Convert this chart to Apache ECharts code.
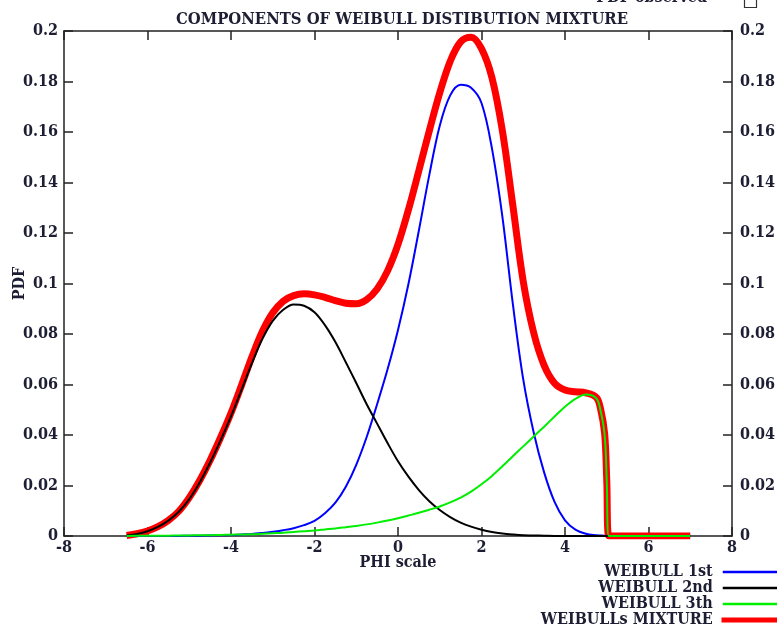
<!DOCTYPE html>
<html>
<head>
<meta charset="utf-8">
<script src="https://cdn.jsdelivr.net/npm/echarts@6/dist/echarts.min.js"></script>
<style>
  html, body { margin: 0; padding: 0; background: #ffffff; }
  #chart { width: 777px; height: 629px; }
</style>
</head>
<body>
<div id="chart"></div>
<script>
// PHI positions at which the densities are sampled
const phi = [-6.5, -6.25, -6, -5.75, -5.5, -5.25, -5, -4.75, -4.5, -4.25, -4, -3.75, -3.5, -3.25,
  -3, -2.75, -2.5, -2.25, -2, -1.75, -1.5, -1.25, -1, -0.75, -0.5, -0.25, 0, 0.25, 0.5, 0.75,
  1, 1.25, 1.5, 1.75, 2, 2.25, 2.5, 2.75, 3, 3.25, 3.5, 3.75, 4, 4.25, 4.5, 4.75, 4.85, 4.95,
  5, 5.05, 5.25, 5.5, 6, 6.5, 7];

// first Weibull component
const weibull1st = [0, 0, 0, 0, 0, 0, 0.0001, 0.0001, 0.0002, 0.0003, 0.0004, 0.0006, 0.0008, 0.0012,
  0.0017, 0.0023, 0.0031, 0.0043, 0.006, 0.009, 0.0132, 0.0195, 0.0282, 0.0392, 0.0522, 0.066, 0.0816, 0.0998, 0.121, 0.143,
  0.1625, 0.1745, 0.1787, 0.1775, 0.1715, 0.1535, 0.1265, 0.092, 0.062, 0.041, 0.0252, 0.0135, 0.0062, 0.0025, 0.0009, 0.0003, 0.0002, 0.0001,
  0, 0, 0, 0, 0, 0, 0];

// second Weibull component
const weibull2nd = [0.0002, 0.0008, 0.0019, 0.0036, 0.0061, 0.0096, 0.0146, 0.0212, 0.0291, 0.0379, 0.0474, 0.0578, 0.0684, 0.078,
  0.0852, 0.0896, 0.0917, 0.0912, 0.0886, 0.0835, 0.0768, 0.0688, 0.0606, 0.0522, 0.0445, 0.0368, 0.0296, 0.0235, 0.0182, 0.0138,
  0.0103, 0.0075, 0.0053, 0.0037, 0.0025, 0.0016, 0.001, 0.0006, 0.0003, 0.0002, 0.0001, 0, 0, 0, 0, 0, 0, 0,
  0, 0, 0, 0, 0, 0, 0];

// third Weibull component
const weibull3rd = [0, 0.0001, 0.0001, 0.0001, 0.0001, 0.0002, 0.0002, 0.0003, 0.0003, 0.0004, 0.0005, 0.0006, 0.0007, 0.0009,
  0.0011, 0.0013, 0.0016, 0.0019, 0.0022, 0.0026, 0.003, 0.0035, 0.004, 0.0046, 0.0053, 0.0061, 0.007, 0.0081, 0.0092, 0.0104,
  0.0117, 0.0133, 0.0152, 0.0176, 0.0205, 0.0238, 0.0276, 0.0316, 0.0355, 0.0394, 0.0433, 0.0473, 0.0512, 0.0543, 0.056, 0.0545, 0.0498, 0.0399,
  0.022, 0, 0, 0, 0, 0, 0];

// mixture of the three components
const weibullsMixture = [0.0002, 0.0009, 0.002, 0.0037, 0.0062, 0.0098, 0.0152, 0.022, 0.03, 0.039, 0.0487, 0.0596, 0.0709, 0.081,
  0.0884, 0.093, 0.0952, 0.0959, 0.0955, 0.0945, 0.0932, 0.0922, 0.092, 0.0936, 0.0978, 0.105, 0.1155, 0.1292, 0.1447, 0.1605,
  0.1755, 0.188, 0.1957, 0.1975, 0.193, 0.1815, 0.1605, 0.131, 0.1008, 0.0805, 0.0676, 0.0605, 0.0578, 0.0571, 0.0567, 0.0549, 0.0505, 0.0405,
  0.022, 0, 0, 0, 0, 0, 0];

const seriesNames = ['WEIBULL 1st', 'WEIBULL 2nd', 'WEIBULL 3th', 'WEIBULLs MIXTURE'];
const seriesColors = ['#0000ff', '#000000', '#00ee00', '#ff0000'];
const seriesWidths = [2, 2, 2, 7];
const seriesValues = [weibull1st, weibull2nd, weibull3rd, weibullsMixture];

const FONT = "'DejaVu Serif Condensed', 'DejaVu Serif', 'Liberation Serif', serif";
const INK = '#1d1d33';
const FS = 16;

const pairs = (ys) => phi.map((x, i) => [x, ys[i]]);

const frameLine = { show: true, onZero: false, lineStyle: { color: '#222', width: 1.5 } };
const innerTick = { show: true, inside: true, length: 9, lineStyle: { color: '#222', width: 1.5 } };
const labelText = { fontFamily: FONT, fontSize: FS, fontWeight: 'bold', color: INK };

const chart = echarts.init(document.getElementById('chart'), null, { renderer: 'canvas' });

chart.setOption({
  animation: false,
  backgroundColor: '#ffffff',
  title: {
    text: 'COMPONENTS OF WEIBULL DISTIBUTION MIXTURE',
    left: 397, top: 6, textAlign: 'center',
    textStyle: { fontFamily: FONT, fontSize: 16.5, fontWeight: 'bold', color: INK }
  },
  graphic: [
    { type: 'text', right: 70, top: -10,
      style: { text: 'PDF observed', font: "bold 16px " + FONT, fill: INK } },
    { type: 'rect', left: 742, top: -6,
      shape: { width: 12, height: 11 },
      style: { fill: 'none', stroke: '#333', lineWidth: 1.2 } }
  ],
  legend: {
    orient: 'vertical', align: 'right',
    right: -14, top: 559, height: 80,
    icon: 'rect',
    itemWidth: 62, itemHeight: 2.5, itemGap: 0,
    data: seriesNames.map((name, k) => ({
      name: name,
      itemStyle: k === 3
        ? { color: seriesColors[k], borderColor: seriesColors[k], borderWidth: 2.5 }
        : { color: seriesColors[k], borderWidth: 0 }
    })),
    textStyle: Object.assign({}, labelText, { lineHeight: 16, padding: [0, 5, 0, 0] })
  },
  grid: { left: 64, right: 45, top: 31, bottom: 93, containLabel: false, outerBoundsMode: 'none' },
  xAxis: [
    {
      type: 'value', min: -8, max: 8, interval: 2, position: 'bottom',
      name: 'PHI scale', nameLocation: 'middle', nameGap: 19, nameMoveOverlap: false,
      nameTextStyle: labelText,
      axisLine: frameLine, axisTick: innerTick, splitLine: { show: false },
      axisLabel: Object.assign({ margin: 4 }, labelText)
    },
    {
      type: 'value', min: -8, max: 8, interval: 2, position: 'top',
      axisLine: frameLine, axisTick: innerTick, splitLine: { show: false },
      axisLabel: { show: false }
    }
  ],
  yAxis: [
    {
      type: 'value', min: 0, max: 0.2, interval: 0.02, position: 'left',
      name: 'PDF', nameLocation: 'middle', nameGap: 36, nameRotate: 90, nameMoveOverlap: false,
      nameTextStyle: labelText,
      axisLine: frameLine, axisTick: innerTick, splitLine: { show: false },
      axisLabel: Object.assign({ margin: 6 }, labelText)
    },
    {
      type: 'value', min: 0, max: 0.2, interval: 0.02, position: 'right',
      axisLine: frameLine, axisTick: innerTick, splitLine: { show: false },
      axisLabel: Object.assign({ margin: 8 }, labelText)
    }
  ],
  series: seriesNames.map((name, k) => ({
    name: name,
    type: 'line',
    xAxisIndex: 0, yAxisIndex: 0,
    data: pairs(seriesValues[k]),
    smooth: 0.35,
    symbol: 'none',
    z: k === 3 ? 1 : 2 + k,
    lineStyle: { color: seriesColors[k], width: seriesWidths[k] },
    itemStyle: { color: seriesColors[k] }
  }))
});
</script>
</body>
</html>
